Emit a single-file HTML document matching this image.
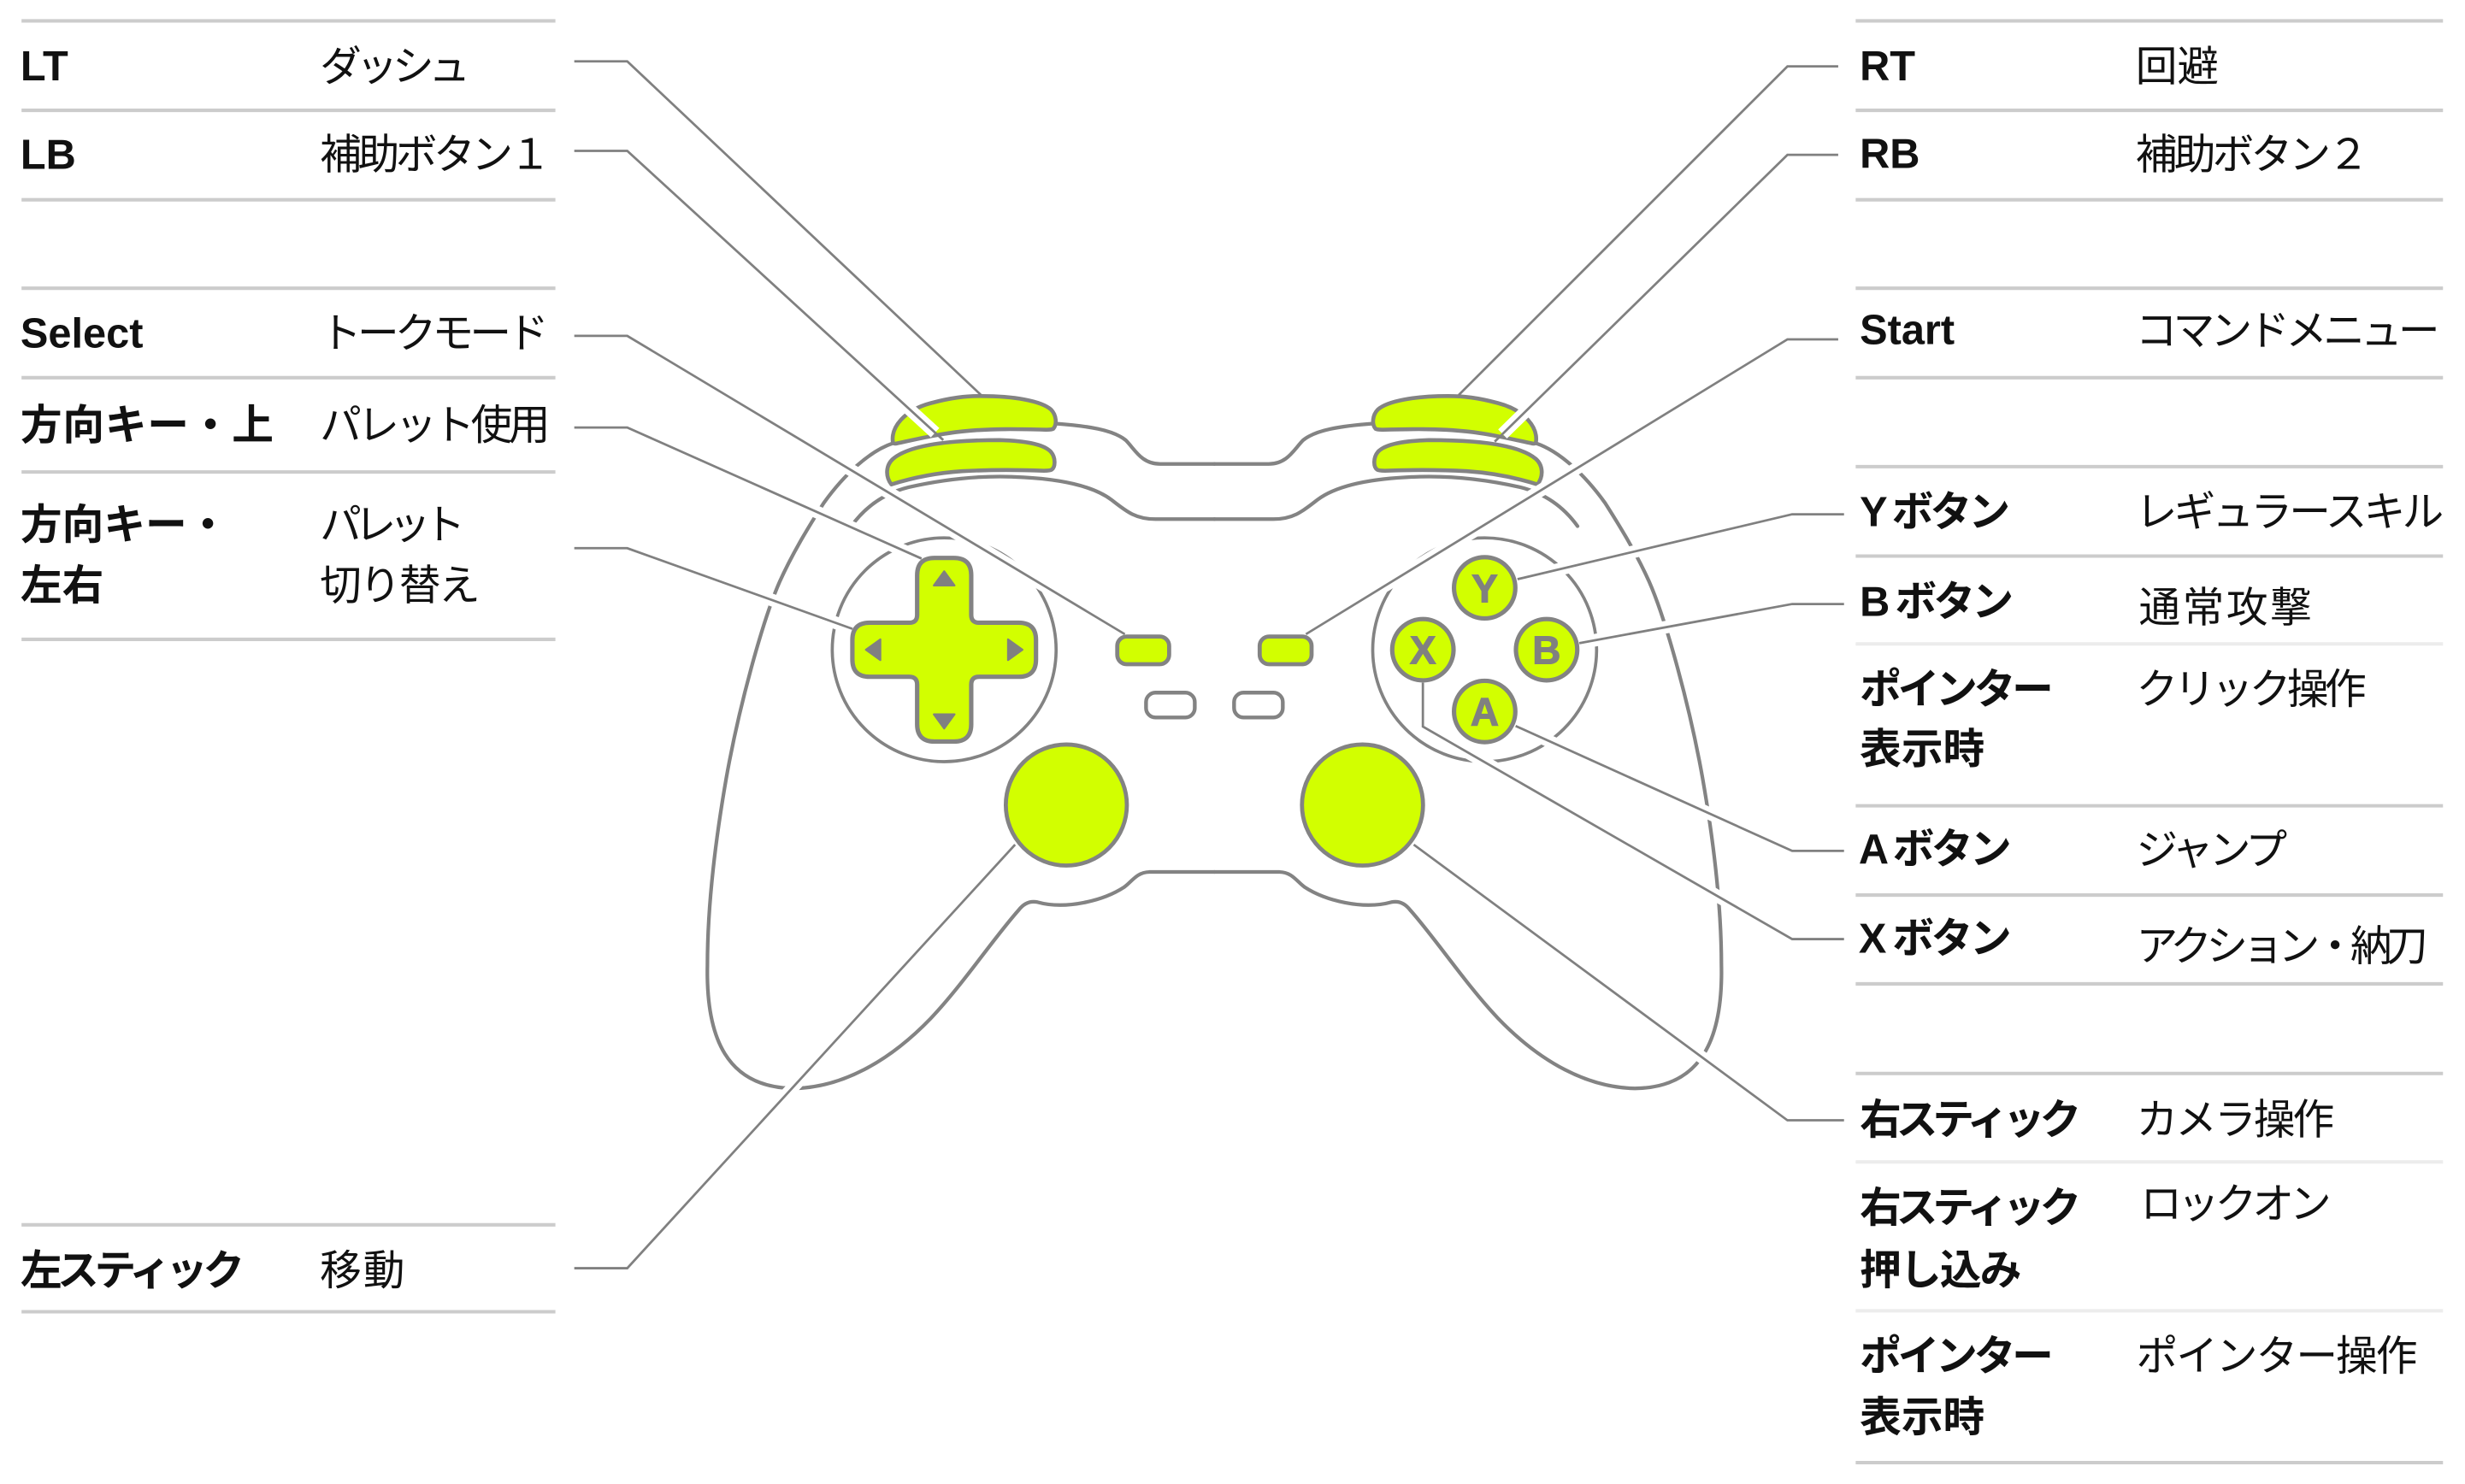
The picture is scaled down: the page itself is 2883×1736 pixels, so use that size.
<!DOCTYPE html>
<html>
<head>
<meta charset="utf-8">
<style>
html,body{margin:0;padding:0;background:#fff;width:2883px;height:1736px;overflow:hidden}
svg{display:block}
</style>
</head>
<body>
<svg xmlns="http://www.w3.org/2000/svg" xmlns:xlink="http://www.w3.org/1999/xlink" width="2883" height="1736" viewBox="0 0 1568 944.2" preserveAspectRatio="none">
<rect x="0" y="0" width="1568" height="944.2" fill="#fff"/>

<!-- table lines -->
<g stroke="#cccccc" stroke-width="2.2">
  <line x1="13.7" x2="353.3" y1="13.3" y2="13.3"/>
  <line x1="13.7" x2="353.3" y1="70.2" y2="70.2"/>
  <line x1="13.7" x2="353.3" y1="127.1" y2="127.1"/>
  <line x1="13.7" x2="353.3" y1="183.4" y2="183.4"/>
  <line x1="13.7" x2="353.3" y1="240.3" y2="240.3"/>
  <line x1="13.7" x2="353.3" y1="300.3" y2="300.3"/>
  <line x1="13.7" x2="353.3" y1="406.8" y2="406.8"/>
  <line x1="13.7" x2="353.3" y1="779.3" y2="779.3"/>
  <line x1="13.7" x2="353.3" y1="834.6" y2="834.6"/>

  <line x1="1180.4" x2="1554" y1="13.3" y2="13.3"/>
  <line x1="1180.4" x2="1554" y1="70.2" y2="70.2"/>
  <line x1="1180.4" x2="1554" y1="127.1" y2="127.1"/>
  <line x1="1180.4" x2="1554" y1="183.4" y2="183.4"/>
  <line x1="1180.4" x2="1554" y1="240.3" y2="240.3"/>
  <line x1="1180.4" x2="1554" y1="296.9" y2="296.9"/>
  <line x1="1180.4" x2="1554" y1="353.8" y2="353.8"/>
  <line x1="1180.4" x2="1554" y1="512.7" y2="512.7"/>
  <line x1="1180.4" x2="1554" y1="569.5" y2="569.5"/>
  <line x1="1180.4" x2="1554" y1="626" y2="626"/>
  <line x1="1180.4" x2="1554" y1="683" y2="683"/>
  <line x1="1180.4" x2="1554" y1="930.6" y2="930.6"/>
</g>
<g stroke="#ececec" stroke-width="2.2">
  <line x1="1180.4" x2="1554" y1="409.7" y2="409.7"/>
  <line x1="1180.4" x2="1554" y1="739.3" y2="739.3"/>
  <line x1="1180.4" x2="1554" y1="834" y2="834"/>
</g>

<!-- table text -->
<g font-family="'Liberation Sans','Noto Sans CJK JP',sans-serif" font-size="26.5" fill="#111">
  <text x="13" y="51" font-weight="700">LT</text>
  <text x="203.5" y="51.5" textLength="95.7">ダッシュ</text>
  <text x="13" y="107.5" font-weight="700">LB</text>
  <text x="203.5" y="107.5" textLength="147">補助ボタン１</text>
  <text x="13" y="221" font-weight="700">Select</text>
  <text x="203.5" y="221" textLength="145.6">トークモード</text>
  <text x="13" y="279.5" font-weight="700" textLength="161">方向キー・上</text>
  <text x="203.5" y="279.5" textLength="146.5">パレット使用</text>
  <text x="13" y="343" font-weight="700">方向キー・</text>
  <text x="13" y="381.6" font-weight="700">左右</text>
  <text x="203.5" y="343" textLength="92.5">パレット</text>
  <text x="203.5" y="381.6" textLength="102">切り替え</text>
  <text x="13" y="817.5" font-weight="700" textLength="142.6">左スティック</text>
  <text x="203.5" y="817.5" textLength="54">移動</text>

  <text x="1183" y="51" font-weight="700">RT</text>
  <text x="1358.5" y="51.5" textLength="53">回避</text>
  <text x="1183" y="107" font-weight="700">RB</text>
  <text x="1358.5" y="107.5" textLength="148.6">補助ボタン２</text>
  <text x="1183" y="219" font-weight="700">Start</text>
  <text x="1358.5" y="219.5" textLength="193.5">コマンドメニュー</text>
  <text x="1183" y="334.7" font-weight="700" textLength="95.7">Y ボタン</text>
  <text x="1358.5" y="334.7" textLength="196">レギュラースキル</text>
  <text x="1183" y="392" font-weight="700" textLength="97.9">B ボタン</text>
  <text x="1360.5" y="395.7" textLength="110">通常攻撃</text>
  <text x="1183" y="447.6" font-weight="700" textLength="123.3">ポインター</text>
  <text x="1183" y="485.8" font-weight="700">表示時</text>
  <text x="1358.9" y="447.6" textLength="146.4">クリック操作</text>
  <text x="1182.3" y="549.3" font-weight="700" textLength="97.3">A ボタン</text>
  <text x="1358.9" y="550" textLength="96">ジャンプ</text>
  <text x="1182.3" y="606.3" font-weight="700" textLength="97.3">X ボタン</text>
  <text x="1358.9" y="611" textLength="185.6">アクション・納刀</text>
  <text x="1183" y="721.6" font-weight="700" textLength="140.9">右スティック</text>
  <text x="1358.9" y="721.6" textLength="126">カメラ操作</text>
  <text x="1183" y="777.5" font-weight="700" textLength="140.9">右スティック</text>
  <text x="1183" y="817.3" font-weight="700" textLength="103">押し込み</text>
  <text x="1361.5" y="775" textLength="121.5">ロックオン</text>
  <text x="1183" y="872" font-weight="700" textLength="123.3">ポインター</text>
  <text x="1183" y="910.7" font-weight="700">表示時</text>
  <text x="1358.9" y="872" textLength="178.9">ポインター操作</text>
</g>

<!-- controller: left half (mirrored for right) -->
<g id="half" fill="none" stroke="#838383" stroke-linecap="round" stroke-linejoin="round">
  <path stroke-width="2.3" d="M568,282 C553,287 537,302 524,320 C517,331 505,350 496,370 C485,395 470,450 462,495 C455,535 450,575 450,614 C449,660 462,692 505,692.5 C535,692 565,676 592,648 C612,627 632,597 648,579 Q653,572.5 660,574 C678,579 702,573 715,564.5 C720,561 723,555 731,554.8 L772.5,554.8"/>
  <path stroke-width="2.3" d="M671.5,269.5 C692,271 708,273.5 716,280 C722,286 726,295.2 738,295.2 L772.5,295.2"/>
  <path stroke-width="2.3" d="M541.5,334.8 C550,323 562,314 578,310 C600,305 625,302 651,303.7 C675,305 695,309 707,318 C716,325 722,330.3 735,330.3 L772.5,330.3"/>
  <circle cx="600.6" cy="413.4" r="71.2" stroke-width="2"/>
  <path fill="#d2ff00" stroke-width="2.5" d="M567,308.2 C563,303 563.5,296 568,292 C575,286 590,282.5 608,281 C618,280.2 628,280 636,280 C652,280.5 664,282.5 668.5,287.5 C671.5,291 671.5,297 669,298.8 C668,299.5 666,299.5 664,299.5 C650,299 630,298.8 612,299.8 C597,300.8 582,303.5 567,308.2 Z"/>
  <path fill="#d2ff00" stroke-width="2.5" d="M568,281.5 C566.5,272 575,261 592,256.5 C605,253 614,252 624,252 C645,252 662,255 668.5,260.5 C672,264 672.5,270 670,272.8 C669,273.5 667,273.4 665,273.4 C650,273 630,272.5 612,274.5 C598,276 585,279 571,282 C569.5,282.5 568.3,282.3 568,281.5 Z"/>
  <circle cx="678.3" cy="512.2" r="38.5" fill="#d2ff00" stroke-width="2.6"/>
  <rect x="710.7" y="405" width="33" height="17.6" rx="6" fill="#d2ff00" stroke-width="2.6"/>
  <rect x="729" y="440.7" width="31" height="15.8" rx="6" fill="#fff" stroke-width="2.4"/>
</g>
<use href="#half" xlink:href="#half" transform="matrix(-1 0 0 1 1545 0)"/>

<!-- D-pad -->
<path fill="#d2ff00" stroke="#838383" stroke-width="2.8" stroke-linejoin="round" d="M583.4,366 Q583.4,355 594.4,355 L606.8,355 Q617.8,355 617.8,366 L617.8,391.2 Q617.8,396.2 622.8,396.2 L648,396.2 Q659,396.2 659,407.2 L659,419.6 Q659,430.6 648,430.6 L622.8,430.6 Q617.8,430.6 617.8,435.6 L617.8,460.8 Q617.8,471.8 606.8,471.8 L594.4,471.8 Q583.4,471.8 583.4,460.8 L583.4,435.6 Q583.4,430.6 578.4,430.6 L553.2,430.6 Q542.2,430.6 542.2,419.6 L542.2,407.2 Q542.2,396.2 553.2,396.2 L578.4,396.2 Q583.4,396.2 583.4,391.2 Z"/>
<g fill="#808080" stroke="#808080" stroke-width="1.2" stroke-linejoin="round">
  <path d="M600.6,363.5 L607.2,372.5 L594,372.5 Z"/>
  <path d="M594,454.5 L607.2,454.5 L600.6,463.5 Z"/>
  <path d="M550.8,413.4 L560,406.8 L560,420 Z"/>
  <path d="M650.4,413.4 L641.2,406.8 L641.2,420 Z"/>
</g>

<!-- face buttons -->
<g fill="#d2ff00" stroke="#838383" stroke-width="2.8">
  <circle cx="944.4" cy="374" r="19.5"/>
  <circle cx="905.1" cy="413.4" r="19.5"/>
  <circle cx="983.8" cy="413.4" r="19.5"/>
  <circle cx="944.4" cy="452.7" r="19.5"/>
</g>
<g font-family="'Liberation Sans',sans-serif" font-weight="700" font-size="25" fill="#808080" stroke="#808080" stroke-width="0.6" text-anchor="middle">
  <text x="944.4" y="383.1">Y</text>
  <text x="905.1" y="422.3">X</text>
  <text x="983.8" y="422.3">B</text>
  <text x="944.4" y="461.5">A</text>
</g>

<!-- connector halos -->
<g fill="none" stroke="#fff" stroke-width="8" stroke-linecap="butt">
  <path d="M399,39 L618.9,246.5"/>
  <path d="M399,96 L594.8,275.3"/>
  <path d="M399,213.7 L709.5,399.9"/>
  <path d="M399,272 L579.8,352.6"/>
  <path d="M399,348.8 L535.6,397.7"/>
  <path d="M399,806.9 L641,542.6"/>
  <path d="M1137,42.2 L932.9,246.4"/>
  <path d="M1137,98.5 L955.8,276.1"/>
  <path d="M1137,215.9 L836.7,399.8"/>
  <path d="M1140,327.2 L972.1,366.9"/>
  <path d="M1140,384.3 L1011.5,407.9"/>
  <path d="M1140,541.4 L970.5,464.8"/>
  <path d="M1140,597.5 L905.1,462.3 L905.1,441"/>
  <path d="M1137,712.8 L904.9,541.6"/>
</g>

<!-- connector lines -->
<g fill="none" stroke="#808080" stroke-width="1.5" stroke-linejoin="miter">
  <polyline points="365.3,39 399,39 624,251.3"/>
  <polyline points="365.3,96 399,96 600,280"/>
  <polyline points="365.3,213.7 399,213.7 715.5,403.5"/>
  <polyline points="365.3,272 399,272 586.2,355.4"/>
  <polyline points="365.3,348.8 399,348.8 542.2,400.1"/>
  <polyline points="365.3,806.9 399,806.9 645.7,537.4"/>
  <polyline points="1169.3,42.2 1137,42.2 927.9,251.3"/>
  <polyline points="1169.3,98.5 1137,98.5 950.8,281"/>
  <polyline points="1169.3,215.9 1137,215.9 830.7,403.5"/>
  <polyline points="1173,327.2 1140,327.2 965.3,368.5"/>
  <polyline points="1173,384.3 1140,384.3 1004.6,409.2"/>
  <polyline points="1173,541.4 1140,541.4 964.1,461.9"/>
  <polyline points="1173,597.5 1140,597.5 905.1,462.3 905.1,434.4"/>
  <polyline points="1173,712.8 1137,712.8 899.3,537.4"/>
</g>
</svg>
</body>
</html>
